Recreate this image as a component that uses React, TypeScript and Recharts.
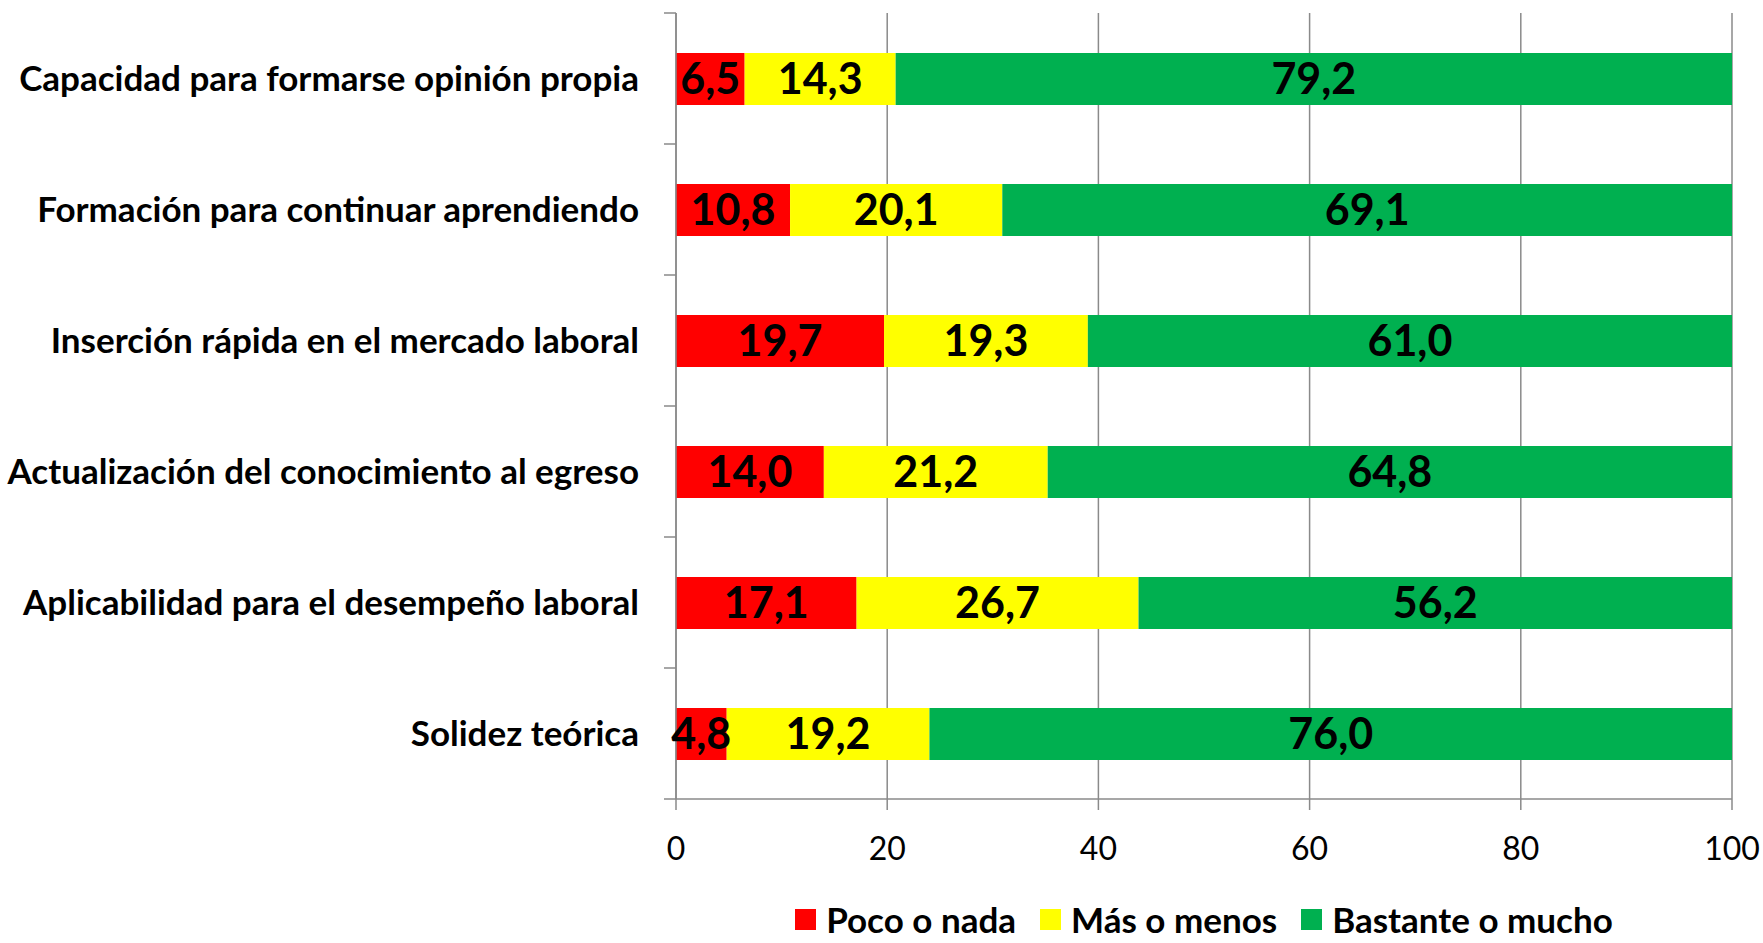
import { BarChart, Bar, XAxis, YAxis, CartesianGrid, Legend, LabelList } from 'recharts'

const categories = [
  'Capacidad para formarse opinión propia',
  'Formación para continuar aprendiendo',
  'Inserción rápida en el mercado laboral',
  'Actualización del conocimiento al egreso',
  'Aplicabilidad para el desempeño laboral',
  'Solidez teórica',
]
const poco = [6.5, 10.8, 19.7, 14.0, 17.1, 4.8]
const mas = [14.3, 20.1, 19.3, 21.2, 26.7, 19.2]
const bastante = [79.2, 69.1, 61.0, 64.8, 56.2, 76.0]
const xTicks = [0, 20, 40, 60, 80, 100]

const series = [
  { key: 'poco', name: 'Poco o nada', color: '#FF0000' },
  { key: 'mas', name: 'Más o menos', color: '#FFFF00' },
  { key: 'bastante', name: 'Bastante o mucho', color: '#00B050' },
]

const data = categories.map((name, i) => ({
  name, poco: poco[i], mas: mas[i], bastante: bastante[i],
}))

const FONT = 'Lato, "Open Sans", sans-serif'
const GRAY = '#8a8a8a'
const fmt = (v: any) => Number(v).toFixed(1).replace('.', ',')

function CategoryTick(props: any) {
  const { x, y, payload, index, visibleTicksCount } = props
  const half = payload?.offset ?? 65.5
  const ax = x + 37
  return (
    <g>
      <line x1={ax - 12} x2={ax} y1={y - half} y2={y - half} stroke={GRAY} strokeWidth={1.5} />
      {index === visibleTicksCount - 1 && (
        <line x1={ax - 12} x2={ax} y1={y + half} y2={y + half} stroke={GRAY} strokeWidth={1.5} />
      )}
      <text x={x} y={y} dy="0.35em" textAnchor="end" fontFamily={FONT} fontWeight="bold" fontSize={35} fill="#000">
        {payload.value}
      </text>
    </g>
  )
}

function LegendContent() {
  return (
    <div style={{ height: 36, lineHeight: '36px', display: 'flex', justifyContent: 'center', alignItems: 'center', fontFamily: FONT, fontWeight: 'bold', fontSize: 35, color: '#000' }}>
      {series.map(s => (
        <div key={s.key} style={{ display: 'flex', alignItems: 'center', margin: '0 12px' }}>
          <span style={{ width: 21, height: 21, background: s.color, display: 'inline-block', marginRight: 10 }} />
          <span>{s.name}</span>
        </div>
      ))}
    </div>
  )
}

export default function App() {
  return (
    <div style={{ position: 'absolute', left: 0, top: 0, width: 1763, height: 943, overflow: 'hidden', background: '#fff' }}>
      <BarChart
        width={1763}
        height={943}
        data={data}
        layout="vertical"
        margin={{ top: 13, right: 31, bottom: 0, left: 0 }}
        barSize={52}
      >
        <CartesianGrid horizontal={false} stroke={GRAY} strokeWidth={1.5} />
        <XAxis
          type="number"
          domain={[0, 100]}
          ticks={xTicks}
          interval={0}
          height={108}
          tickSize={11}
          tickMargin={27}
          axisLine={{ stroke: GRAY, strokeWidth: 1.5 }}
          tickLine={{ stroke: GRAY, strokeWidth: 1.5 }}
          tick={{ fill: '#000', fontSize: 32, fontFamily: FONT }}
        />
        <YAxis
          type="category"
          dataKey="name"
          width={676}
          tickSize={12}
          tickMargin={25}
          interval={0}
          axisLine={{ stroke: GRAY, strokeWidth: 1.5 }}
          tickLine={false}
          tick={<CategoryTick />}
        />
        <Legend
          verticalAlign="bottom"
          content={<LegendContent />}
          wrapperStyle={{ left: 676, width: 1056, bottom: 6 }}
        />
        {series.map(s => (
          <Bar key={s.key} dataKey={s.key} name={s.name} stackId="a" fill={s.color} isAnimationActive={false}>
            <LabelList
              dataKey={s.key}
              position="center"
              formatter={fmt}
              fill="#000"
              fontSize={43}
              fontWeight="bold"
              fontFamily={FONT}
            />
          </Bar>
        ))}
      </BarChart>
    </div>
  )
}
